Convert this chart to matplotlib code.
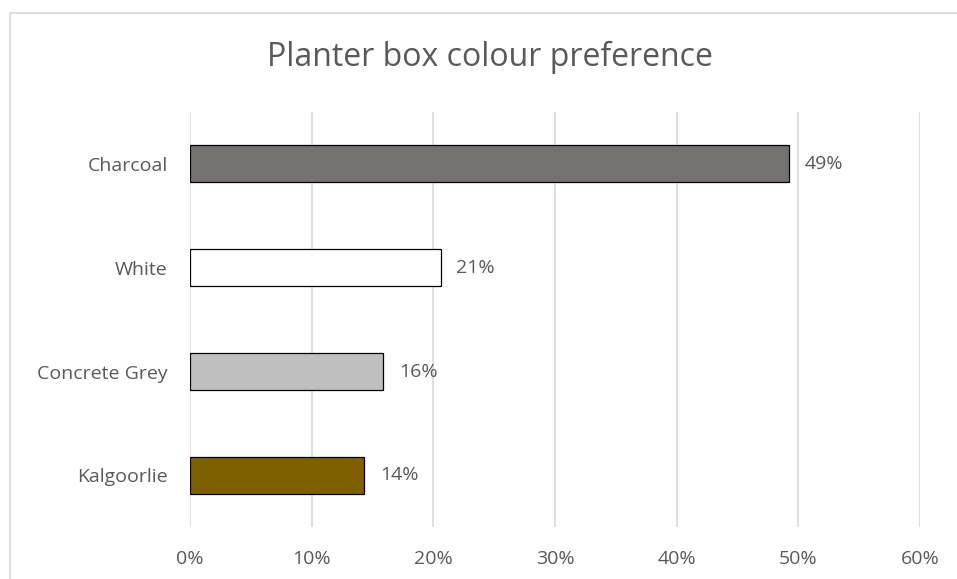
import matplotlib.pyplot as plt
from matplotlib.patches import Rectangle
from matplotlib.ticker import PercentFormatter

# Data
categories = ['Charcoal', 'White', 'Concrete Grey', 'Kalgoorlie']
shares = [0.492, 0.206, 0.159, 0.143]
colours = ['#767171', '#ffffff', '#bfbfbf', '#7f6000']
ticks = [0, 0.1, 0.2, 0.3, 0.4, 0.5, 0.6]

plt.rcParams['font.family'] = ['Open Sans', 'DejaVu Sans']
text_col = '#595959'
grid_col = '#d9d9d9'

fig = plt.figure(figsize=(9.57, 5.79), dpi=100)
ax = fig.add_axes([0.1985, 0.0893, 0.7628, 0.7173])

# outer chart frame (right and bottom edges fall outside the image)
fig.patches.append(Rectangle((10 / 957, -0.05), 1.0, 1 - 13 / 579 + 0.05,
                             transform=fig.transFigure, fill=False,
                             edgecolor=grid_col, linewidth=1.2))

y = range(len(categories))
ax.barh(y, shares, height=0.356, color=colours, edgecolor='black', linewidth=0.9, zorder=3)

for i, v in enumerate(shares):
    ax.text(v + 0.013, i, f'{v:.0%}', va='center', ha='left', fontsize=14, color=text_col)

ax.set_xlim(0, 0.6)
ax.set_ylim(3.5, -0.5)
ax.set_xticks(ticks)
ax.xaxis.set_major_formatter(PercentFormatter(1.0, decimals=0))
ax.set_yticks(list(y))
ax.set_yticklabels(categories)
ax.tick_params(axis='both', length=0, labelsize=14, labelcolor=text_col)
ax.tick_params(axis='x', pad=16)
ax.tick_params(axis='y', pad=16)

ax.grid(axis='x', color=grid_col, linewidth=1.2, zorder=0)
for s in ax.spines.values():
    s.set_visible(False)

fig.text(490 / 957, 1 - 57 / 579, 'Planter box colour preference', ha='center', va='center',
         fontsize=23, color=text_col)

fig.savefig('out.png', dpi=100)
